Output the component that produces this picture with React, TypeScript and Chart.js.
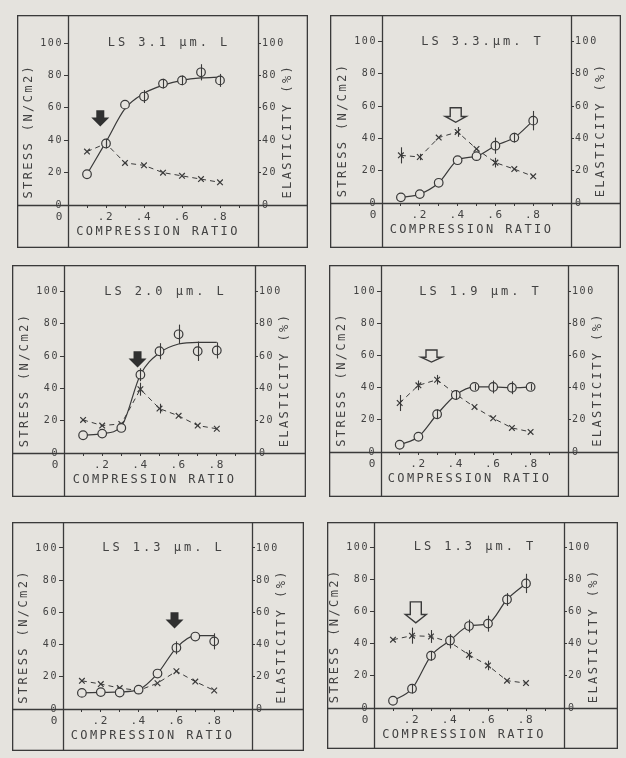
import React, { useEffect, useRef } from 'react';
import { Chart, registerables } from 'chart.js';
Chart.register(...registerables);

// ---------- shared axis data ----------
const COMPRESSION = [0.1, 0.2, 0.3, 0.4, 0.5, 0.6, 0.7, 0.8];
const X_TICKS = [0, 0.2, 0.4, 0.6, 0.8];
const X_TICK_LABELS = ['0', '.2', '.4', '.6', '.8'];
const X_MINOR_TICKS = [0.1, 0.3, 0.5, 0.7, 0.9];
const Y_TICKS = [0, 20, 40, 60, 80, 100];
const X_TITLE = 'COMPRESSION RATIO';
const Y_TITLE = 'STRESS (N/Cm2)';
const Y2_TITLE = 'ELASTICITY (%)';

// ---------- panel 1: LS 3.1 um L ----------
const TITLE_31L = 'LS 3.1 µm. L';
const STRESS_31L = [19, 38, 62, 67, 75, 77, 82, 77];
const FIT_31L = [19, 39, 59.5, 69, 74, 77, 78.5, 79];
const ELAST_31L = [33, 38, 26, 24.5, 20, 18, 16, 14];
const STRESS_ERR_31L = [0, 2, 0, 4, 3, 3, 5, 4];
const ELAST_ERR_31L = [0, 3, 0, 0, 0, 0, 0, 0];
const ARROW_31L = { x: 0.17, top: 58.5, tip: 48.5, filled: true };

// ---------- panel 2: LS 3.3 um T ----------
const TITLE_33T = 'LS 3.3.µm. T';
const STRESS_33T = [3.5, 5.5, 12.5, 26.5, 29, 35.5, 40.5, 51];
const ELAST_33T = [29.5, 28.5, 40.5, 44, 33.5, 25, 21, 16.5];
const STRESS_ERR_33T = [0, 0, 0, 0, 0, 5, 3, 6];
const ELAST_ERR_33T = [5, 2, 0, 3, 0, 3, 0, 0];
const ARROW_33T = { x: 0.39, top: 59, tip: 50, filled: false };

// ---------- panel 3: LS 2.0 um L ----------
const TITLE_20L = 'LS 2.0 µm. L';
const STRESS_20L = [11, 12, 15.5, 48.5, 63, 73.5, 63, 63.5];
const FIT_20L = [11, 12, 16.5, 48.5, 62, 67.5, 68.5, 68.5];
const ELAST_20L = [20.5, 17, 18, 39.5, 27.5, 23, 17, 15];
const STRESS_ERR_20L = [0, 0, 0, 4, 5, 6, 6, 5];
const ELAST_ERR_20L = [0, 0, 0, 4, 3, 0, 0, 0];
const ARROW_20L = { x: 0.385, top: 63, tip: 53, filled: true };

// ---------- panel 4: LS 1.9 um T ----------
const TITLE_19T = 'LS 1.9 µm. T';
const STRESS_19T = [4.5, 9.5, 23.5, 35.5, 40.5, 40.5, 40, 40.5];
const ELAST_19T = [30.5, 41.5, 45, 36, 28, 21, 15, 12.5];
const STRESS_ERR_19T = [0, 0, 3, 3, 2, 4, 4, 2];
const ELAST_ERR_19T = [5, 3, 3, 0, 0, 0, 0, 0];
const ARROW_19T = { x: 0.27, top: 63.5, tip: 56, filled: false };

// ---------- panel 5: LS 1.3 um L ----------
const TITLE_13L = 'LS 1.3 µm. L';
const STRESS_13L = [10, 10.5, 10.2, 12, 22, 38, 45, 42];
const FIT_13L = [10, 10.3, 10.6, 12, 22, 38, 45.5, 45.5];
const ELAST_13L = [17.5, 15.5, 13, 11.5, 16, 23.5, 17, 11.5];
const STRESS_ERR_13L = [0, 0, 0, 0, 0, 4, 0, 5];
const ELAST_ERR_13L = [0, 0, 0, 0, 0, 0, 0, 0];
const ARROW_13L = { x: 0.59, top: 60, tip: 50, filled: true };

// ---------- panel 6: LS 1.3 um T ----------
const TITLE_13T = 'LS 1.3 µm. T';
const STRESS_13T = [4.5, 12, 32.5, 42, 51, 52.5, 67.5, 77.5];
const ELAST_13T = [42.5, 45, 44.5, 41, 33, 26.5, 17, 15.5];
const STRESS_ERR_13T = [0, 3, 3, 4, 4, 5, 4, 6];
const ELAST_ERR_13T = [0, 5, 4, 4, 3, 3, 0, 0];
const ARROW_13T = { x: 0.22, top: 66, tip: 53, filled: false };

const PANELS = [
  { title: TITLE_31L, stress: STRESS_31L, fit: FIT_31L, elast: ELAST_31L, sErr: STRESS_ERR_31L, eErr: ELAST_ERR_31L, arrow: ARROW_31L },
  { title: TITLE_33T, stress: STRESS_33T, fit: null, elast: ELAST_33T, sErr: STRESS_ERR_33T, eErr: ELAST_ERR_33T, arrow: ARROW_33T },
  { title: TITLE_20L, stress: STRESS_20L, fit: FIT_20L, elast: ELAST_20L, sErr: STRESS_ERR_20L, eErr: ELAST_ERR_20L, arrow: ARROW_20L },
  { title: TITLE_19T, stress: STRESS_19T, fit: null, elast: ELAST_19T, sErr: STRESS_ERR_19T, eErr: ELAST_ERR_19T, arrow: ARROW_19T },
  { title: TITLE_13L, stress: STRESS_13L, fit: FIT_13L, elast: ELAST_13L, sErr: STRESS_ERR_13L, eErr: ELAST_ERR_13L, arrow: ARROW_13L },
  { title: TITLE_13T, stress: STRESS_13T, fit: null, elast: ELAST_13T, sErr: STRESS_ERR_13T, eErr: ELAST_ERR_13T, arrow: ARROW_13T },
];

// ---------- layout / style ----------
const LAYOUT = [
  { x: 17, y: 15, w: 291, h: 233, lc: 51, rc: 50, bb: 43, yMax: 114 },
  { x: 330, y: 15, w: 291, h: 233, lc: 52, rc: 50, bb: 45, yMax: 113 },
  { x: 12, y: 265, w: 294, h: 232, lc: 52, rc: 51, bb: 44, yMax: 113 },
  { x: 329, y: 265, w: 290, h: 232, lc: 52, rc: 51, bb: 45, yMax: 113 },
  { x: 12, y: 522, w: 292, h: 229, lc: 51, rc: 52, bb: 42, yMax: 112.7 },
  { x: 327, y: 522, w: 291, h: 227, lc: 47, rc: 54, bb: 41, yMax: 112.3 },
];

const BG = '#e5e3de';
const INK = '#3a3a3a';
const TEXT = '#424242';
const FONT = '"DejaVu Sans Mono", "Liberation Mono", monospace';

function drawText(ctx: any, text: string, x: number, y: number, rot: number, size: number, spacing: number) {
  ctx.save();
  ctx.translate(x, y);
  if (rot) ctx.rotate(rot);
  ctx.font = `${size}px ${FONT}`;
  ctx.letterSpacing = spacing + 'px';
  ctx.fillStyle = TEXT;
  ctx.textAlign = 'center';
  ctx.textBaseline = 'middle';
  ctx.fillText(text, 0, 0);
  ctx.restore();
}

const spacingPlugin = {
  id: 'spacing',
  beforeDraw(chart: any) {
    chart.ctx.letterSpacing = '1.6px';
  },
};

const framePlugin = {
  id: 'frame',
  afterDraw(chart: any, _a: any, opts: any) {
    const ctx = chart.ctx;
    const { left, right, bottom, top } = chart.chartArea;
    const W = chart.width, H = chart.height;
    ctx.save();
    ctx.strokeStyle = INK;
    ctx.lineWidth = 1.3;
    ctx.strokeRect(0.65, 0.65, W - 1.3, H - 1.3);
    ctx.beginPath();
    const L = Math.round(left) + 0.5, R = Math.round(right) + 0.5, B = Math.round(bottom) + 0.5;
    ctx.moveTo(L, 0); ctx.lineTo(L, H);
    ctx.moveTo(R, 0); ctx.lineTo(R, H);
    ctx.moveTo(0, B); ctx.lineTo(W, B);
    ctx.stroke();
    ctx.restore();
    const cx = (left + right) / 2;
    const ys = chart.scales.y;
    drawText(ctx, opts.title, cx + 6, ys.getPixelForValue(100), 0, 12, 3);
    const midY = top + (bottom - top) * 0.6;
    drawText(ctx, Y_TITLE, left - 39, midY, -Math.PI / 2, 12, 2.4);
    drawText(ctx, Y2_TITLE, right + 30, midY, -Math.PI / 2, 12, 2.4);
    drawText(ctx, X_TITLE, cx - 5, bottom + 27, 0, 12, 2.4);
    ctx.letterSpacing = '0px';
  },
};

const errorBarPlugin = {
  id: 'errorBars',
  afterDatasetsDraw(chart: any) {
    const ctx = chart.ctx;
    chart.data.datasets.forEach((ds: any, di: number) => {
      if (!ds.errorBars) return;
      const meta = chart.getDatasetMeta(di);
      const ys = chart.scales[ds.yAxisID];
      ctx.save();
      ctx.strokeStyle = INK;
      ctx.lineWidth = 1.1;
      ds.errorBars.forEach((e: number, i: number) => {
        if (!e) return;
        const pt = meta.data[i];
        const v = ds.data[i].y;
        const px = Math.round(pt.x) + 0.5;
        ctx.beginPath();
        ctx.moveTo(px, ys.getPixelForValue(v + e));
        ctx.lineTo(px, ys.getPixelForValue(v - e));
        ctx.stroke();
      });
      ctx.restore();
    });
  },
};

const arrowPlugin = {
  id: 'flowArrow',
  afterDatasetsDraw(chart: any, _a: any, opts: any) {
    const a = opts.arrow;
    if (!a) return;
    const ctx = chart.ctx;
    const cx = chart.scales.x.getPixelForValue(a.x);
    const top = chart.scales.y.getPixelForValue(a.top);
    const tip = chart.scales.y.getPixelForValue(a.tip);
    const headW = a.filled ? 18 : 21;
    const shaftW = a.filled ? 8 : 11;
    const shaftEnd = top + (tip - top) * (a.filled ? 0.45 : 0.6);
    ctx.save();
    ctx.beginPath();
    ctx.moveTo(cx - shaftW / 2, top);
    ctx.lineTo(cx + shaftW / 2, top);
    ctx.lineTo(cx + shaftW / 2, shaftEnd);
    ctx.lineTo(cx + headW / 2, shaftEnd);
    ctx.lineTo(cx, tip);
    ctx.lineTo(cx - headW / 2, shaftEnd);
    ctx.lineTo(cx - shaftW / 2, shaftEnd);
    ctx.closePath();
    if (a.filled) {
      ctx.fillStyle = '#303030';
      ctx.fill();
    } else {
      ctx.fillStyle = BG;
      ctx.fill();
      ctx.strokeStyle = INK;
      ctx.lineWidth = 1.4;
      ctx.lineJoin = 'miter';
      ctx.stroke();
    }
    ctx.restore();
  },
};

function xLabel(v: number) {
  const k = X_TICKS.findIndex((t) => Math.abs(t - v) < 1e-6);
  if (k < 0) return '';
  return k === 0 ? X_TICK_LABELS[0] + '  ' : X_TICK_LABELS[k];
}

function zeroPad(s: any) {
  s.paddingTop = 0;
  s.paddingBottom = 0;
  s.paddingLeft = 0;
  s.paddingRight = 0;
}

function buildConfig(p: any, L: any): any {
  const pts = (arr: number[]) => COMPRESSION.map((x, i) => ({ x, y: arr[i] }));
  const datasets: any[] = [];
  datasets.push({
    data: pts(p.stress),
    yAxisID: 'y',
    showLine: !p.fit,
    borderColor: INK,
    borderWidth: 1.2,
    cubicInterpolationMode: 'monotone',
    pointStyle: 'circle',
    pointRadius: 4.3,
    pointBorderWidth: 1.2,
    pointBorderColor: INK,
    pointBackgroundColor: BG,
    errorBars: p.sErr,
  });
  if (p.fit) {
    datasets.push({
      data: pts(p.fit),
      yAxisID: 'y',
      borderColor: INK,
      borderWidth: 1.2,
      cubicInterpolationMode: 'monotone',
      pointRadius: 0,
    });
  }
  datasets.push({
    data: pts(p.elast),
    yAxisID: 'y2',
    borderColor: INK,
    borderWidth: 1,
    borderDash: [5, 4],
    tension: 0,
    pointStyle: 'crossRot',
    pointRadius: 4,
    pointBorderWidth: 1.2,
    pointBorderColor: INK,
    errorBars: p.eErr,
  });

  const yTickFont = { family: FONT, size: 10 };
  return {
    type: 'line',
    data: { datasets },
    plugins: [spacingPlugin, errorBarPlugin, arrowPlugin, framePlugin],
    options: {
      responsive: false,
      animation: false,
      devicePixelRatio: 1,
      layout: { padding: 0 },
      plugins: {
        legend: { display: false },
        tooltip: { enabled: false },
        frame: { title: p.title },
        flowArrow: { arrow: p.arrow },
      },
      scales: {
        x: {
          type: 'linear',
          min: 0,
          max: 1.0,
          afterBuildTicks: (s: any) => {
            s.ticks = [...X_TICKS, ...X_MINOR_TICKS].sort((a, b) => a - b).map((v) => ({ value: v }));
          },
          afterFit: (s: any) => { s.height = L.bb; zeroPad(s); },
          ticks: {
            autoSkip: false,
            maxRotation: 0,
            minRotation: 0,
            color: TEXT,
            font: { family: FONT, size: 11 },
            padding: 3,
            callback: (v: number) => xLabel(v),
          },
          grid: { drawOnChartArea: false, drawTicks: true, tickLength: 3, color: INK, lineWidth: 1 },
          border: { display: false },
        },
        y: {
          position: 'left',
          min: 0,
          max: L.yMax,
          afterBuildTicks: (s: any) => { s.ticks = Y_TICKS.map((v) => ({ value: v })); },
          afterFit: (s: any) => { s.width = L.lc; zeroPad(s); },
          ticks: { color: TEXT, font: yTickFont, padding: 1, callback: (v: number) => String(v) },
          grid: { drawOnChartArea: false, drawTicks: true, tickLength: 4, color: INK, lineWidth: 1 },
          border: { display: false },
        },
        y2: {
          position: 'right',
          min: 0,
          max: L.yMax,
          afterBuildTicks: (s: any) => { s.ticks = Y_TICKS.map((v) => ({ value: v })); },
          afterFit: (s: any) => { s.width = L.rc; zeroPad(s); },
          ticks: { color: TEXT, font: yTickFont, padding: 1, callback: (v: number) => String(v) },
          grid: { drawOnChartArea: false, drawTicks: true, tickLength: 3, color: INK, lineWidth: 1 },
          border: { display: false },
        },
      },
    },
  };
}

function Panel({ spec, layout }: { spec: any; layout: any }) {
  const ref = useRef<HTMLCanvasElement>(null);
  useEffect(() => {
    const chart = new Chart(ref.current as HTMLCanvasElement, buildConfig(spec, layout));
    return () => chart.destroy();
  }, []);
  return (
    <canvas
      ref={ref}
      width={layout.w}
      height={layout.h}
      style={{ position: 'absolute', left: layout.x, top: layout.y, width: layout.w, height: layout.h }}
    />
  );
}

export default function App() {
  return (
    <div style={{ position: 'absolute', left: 0, top: 0, width: 626, height: 758, background: BG, overflow: 'hidden' }}>
      {PANELS.map((p, i) => (
        <Panel key={i} spec={p} layout={LAYOUT[i]} />
      ))}
    </div>
  );
}
